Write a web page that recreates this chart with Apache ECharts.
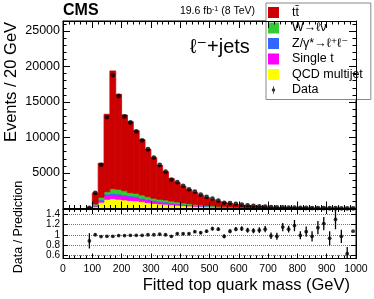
<!DOCTYPE html>
<html><head><meta charset="utf-8">
<script src="https://cdn.jsdelivr.net/npm/echarts@6/dist/echarts.min.js"></script>
<style>html,body{margin:0;padding:0;background:#fff}#c{width:374px;height:299px}</style>
</head><body><div id="c"></div>
<script>
// ---- data (20 GeV bins, lower edges) ----
const binLow = [0,20,40,60,80,100,120,140,160,180,200,220,240,260,280,300,320,340,360,380,400,420,440,460,480,500,520,540,560,580,600,620,640,660,680,700,720,740,760,780,800,820,840,860,880,900,920,940,960,980];
const binWidth = 20;
const ttbar = [0,0,0,0,50,1570,4790,10910,16580,13380,10670,10000,8820,7800,6680,5720,4790,3990,3160,2710,2340,1970,1660,1370,1100,870,695,560,465,380,320,267,223,185,150,122,103,86,71,59,48,41,34,28,23,19,17,13,11,9];
const wjets = [0,0,0,0,15,240,340,330,650,660,600,430,420,440,360,300,270,280,240,230,175,150,130,115,100,85,72,62,53,45,39,33,28,24,21,18,15,13,11,10,9,8,7,6,5,5,4,4,3,3];
const zjets = [0,0,0,0,5,40,140,140,200,140,140,140,140,120,100,90,80,70,60,52,45,40,35,30,26,22,19,16,14,12,10,9,8,7,6,5,4,4,3,3,3,2,2,2,2,1,1,1,1,1];
const singleTop = [0,0,0,0,10,100,230,600,560,610,560,560,520,380,380,350,300,260,220,190,160,140,120,100,85,72,60,50,42,36,30,25,21,18,15,13,11,9,8,7,6,5,4,4,3,3,2,2,2,2];
const qcd = [0,0,0,0,30,250,870,1290,1380,1290,1200,1100,1060,960,820,700,640,590,520,460,400,350,305,265,230,200,165,140,115,95,80,66,55,46,38,32,27,23,19,16,14,12,10,8,7,6,5,4,4,3];
const dataCounts = [0,0,0,0,97,2200,6150,12870,18790,15840,12970,12110,10850,9600,8340,7160,6140,5190,4070,3710,3180,2700,2380,1955,1650,1400,1120,805,738,633,538,436,362,305,255,186,155,155,124,112,79,72,55,55,49,32,38,23,13,19];
const ratio = [null,null,null,null,0.88,1.00,0.965,0.97,0.97,0.985,0.985,0.99,0.99,0.99,1.00,1.00,1.01,1.00,0.97,1.02,1.02,1.02,1.06,1.04,1.07,1.12,1.11,0.97,1.07,1.11,1.12,1.09,1.08,1.09,1.11,0.98,0.97,1.15,1.11,1.18,0.99,1.06,0.97,1.14,1.22,0.93,1.30,0.97,0.63,1.07];
const ratioErr = [null,null,null,null,0.15,0.02,0.01,0.01,0.01,0.01,0.01,0.01,0.01,0.01,0.01,0.01,0.015,0.015,0.02,0.02,0.02,0.02,0.025,0.025,0.03,0.035,0.035,0.04,0.04,0.04,0.045,0.05,0.05,0.055,0.06,0.065,0.07,0.08,0.065,0.11,0.08,0.10,0.10,0.13,0.13,0.14,0.19,0.13,0.13,0.0];
const ratioTicks = [0.6,0.8,1,1.2,1.4];

const FONT = '"Liberation Sans", Arial, Helvetica, "DejaVu Sans", sans-serif';
const components = [
  {name:'QCD multijet', vals:qcd, color:'#ffff00'},
  {name:'Single t', vals:singleTop, color:'#ff00ff'},
  {name:'Z/γ*→ℓ⁺ℓ⁻', vals:zjets, color:'#3366ff'},
  {name:'W→ℓν', vals:wjets, color:'#33cc33'},
  {name:'tt\u0304', vals:ttbar, color:'#cc0000'}
];

const chart = echarts.init(document.getElementById('c'), null, {renderer:'canvas'});
const series = [];
let base = binLow.map(() => 0);
components.forEach(c => {
  const d = binLow.map((lo, i) => [lo, lo + binWidth, base[i], base[i] + c.vals[i]]);
  base = base.map((b, i) => b + c.vals[i]);
  series.push({
    type:'custom', name:c.name, xAxisIndex:0, yAxisIndex:0, clip:true,
    itemStyle:{color:c.color},
    encode:{x:[0,1], y:[2,3]},
    data:d,
    renderItem:(params, api) => {
      if (api.value(3) <= api.value(2)) return null;
      const p0 = api.coord([api.value(0), api.value(3)]);
      const p1 = api.coord([api.value(1), api.value(2)]);
      return {type:'rect', shape:{x:p0[0], y:p0[1], width:p1[0]-p0[0], height:p1[1]-p0[1]},
              style:{fill:c.color, stroke:c.color, lineWidth:0.8}};
    }
  });
});
series.push({
  type:'scatter', name:'Data', xAxisIndex:0, yAxisIndex:0, z:10,
  symbol:'circle', symbolSize:4.8, itemStyle:{color:'#000'},
  data: binLow.map((lo, i) => [lo + binWidth/2, dataCounts[i]]).filter(p => p[1] > 0)
});
// ratio panel
series.push({
  type:'custom', name:'ratioErr', xAxisIndex:2, yAxisIndex:2, clip:true, z:5,
  encode:{x:0, y:1},
  data: binLow.map((lo, i) => [lo + binWidth/2, ratio[i], ratioErr[i]]).filter(p => p[1] !== null),
  renderItem:(params, api) => {
    const x = api.value(0), r = api.value(1), e = api.value(2);
    if (!e) return null;
    const a = api.coord([x, r - e]), b = api.coord([x, r + e]);
    return {type:'line', shape:{x1:a[0], y1:a[1], x2:b[0], y2:b[1]}, style:{stroke:'#000', lineWidth:1.3}};
  }
});
series.push({
  type:'scatter', name:'ratio', xAxisIndex:2, yAxisIndex:2, z:10,
  symbol:'circle', symbolSize:3.8, itemStyle:{color:'#000'},
  data: binLow.map((lo, i) => [lo + binWidth/2, ratio[i]]).filter(p => p[1] !== null),
  markLine:{silent:true, symbol:'none', label:{show:false},
    lineStyle:{type:'dotted', color:'#777', width:1},
    data: ratioTicks.map(v => ({yAxis:v}))}
});

const plain = v => String(Math.round(v * 1000) / 1000);
function xAx(grid, pos, labels){
  return {gridIndex:grid, type:'value', min:0, max:1000, interval:100, position:pos, z:10,
    axisLine:{onZero:false, lineStyle:{color:'#000', width:1}},
    axisTick:{inside:true, length: grid===0?7:5, lineStyle:{color:'#000'}},
    minorTick:{show:true, splitNumber:5, length: grid===0?3.5:3, lineStyle:{color:'#000'}},
    axisLabel:{show:labels, color:'#000', fontSize:10.5, fontFamily:FONT, margin:5, formatter:plain,
      showMinLabel:true, showMaxLabel:true, hideOverlap:false},
    splitLine:{show:false}, minorSplitLine:{show:false}};
}
const option = {
  animation:false,
  textStyle:{fontFamily:FONT},
  grid:[
    {left:63, top:21, width:293, height:187.5, show:true, borderColor:'#000', borderWidth:1, backgroundColor:'transparent'},
    {left:63, top:209, width:293, height:49.5, show:true, borderColor:'#000', borderWidth:1, backgroundColor:'transparent'}
  ],
  xAxis:[xAx(0,'bottom',false), xAx(0,'top',false), xAx(1,'bottom',true), xAx(1,'top',false)],
  yAxis:[
    {gridIndex:0, type:'value', min:0, max:26400, interval:5000, position:'left', z:10,
      axisLine:{onZero:false, lineStyle:{color:'#000'}},
      axisTick:{inside:true, length:7, lineStyle:{color:'#000'}},
      minorTick:{show:true, splitNumber:5, length:3.5, lineStyle:{color:'#000'}},
      axisLabel:{color:'#000', fontSize:12.5, margin:3, showMinLabel:false, showMaxLabel:false, fontFamily:FONT, formatter:plain},
      splitLine:{show:false}},
    {gridIndex:0, type:'value', min:0, max:26400, interval:5000, position:'right', z:10,
      axisLine:{onZero:false, lineStyle:{color:'#000'}},
      axisTick:{inside:true, length:7, lineStyle:{color:'#000'}},
      minorTick:{show:true, splitNumber:5, length:3.5, lineStyle:{color:'#000'}},
      axisLabel:{show:false}, splitLine:{show:false}},
    {gridIndex:1, type:'value', min:0.535, max:1.505, position:'left', z:10,
      axisLine:{onZero:false, lineStyle:{color:'#000'}},
      axisTick:{inside:true, length:5, customValues:ratioTicks, lineStyle:{color:'#000'}},
      axisLabel:{color:'#000', fontSize:10, margin:3, customValues:ratioTicks, fontFamily:FONT, formatter:plain,
        showMinLabel:true, showMaxLabel:true, hideOverlap:false},
      splitLine:{show:false}},
    {gridIndex:1, type:'value', min:0.535, max:1.505, position:'right', z:10,
      axisLine:{onZero:false, lineStyle:{color:'#000'}},
      axisTick:{inside:true, length:5, customValues:ratioTicks, lineStyle:{color:'#000'}},
      axisLabel:{show:false}, splitLine:{show:false}}
  ],
  legend:{
    orient:'vertical', left:266, top:3, padding:[3,8,3,2], itemGap:2.5, itemWidth:11, itemHeight:11,
    backgroundColor:'#fff', borderColor:'#888', borderWidth:1, selectedMode:false,
    textStyle:{fontSize:12.5, color:'#000', fontFamily:FONT, padding:[0,0,0,8]},
    data:[
      {name:'tt\u0304', icon:'rect'},
      {name:'W→ℓν', icon:'rect'},
      {name:'Z/γ*→ℓ⁺ℓ⁻', icon:'rect'},
      {name:'Single t', icon:'rect'},
      {name:'QCD multijet', icon:'rect'},
      {name:'Data', icon:'path://M0,0 M10,10 M4.6,1.5 L5.4,1.5 L5.4,8.5 L4.6,8.5 Z M5,3.4 A1.6,1.6 0 1,1 5,6.6 A1.6,1.6 0 1,1 5,3.4 Z'}
    ]
  },
  graphic:[
    {type:'text', x:63, y:11, style:{text:'CMS', font:'bold 16px '+FONT, fill:'#000', textAlign:'left', textVerticalAlign:'middle'}},
    {type:'text', x:255, y:11, style:{text:'{a|19.6 fb}{s|-1}{a| (8 TeV)}', fill:'#000', textAlign:'right', textVerticalAlign:'middle',
      rich:{a:{fontSize:10.5, fontFamily:FONT, fill:'#000'},
            s:{fontSize:7, verticalAlign:'top', fontFamily:FONT, fill:'#000'}}}},
    {type:'text', x:190, y:47, style:{text:'ℓ⁻+jets', font:'20px '+FONT, fill:'#000', textAlign:'left', textVerticalAlign:'middle'}},
    {type:'text', x:11, y:82, rotation:Math.PI/2, style:{text:'Events / 20 GeV', font:'16.5px '+FONT, fill:'#000', textAlign:'center', textVerticalAlign:'middle'}},
    {type:'text', x:19, y:227, rotation:Math.PI/2, style:{text:'Data / Prediction', font:'12.5px '+FONT, fill:'#000', textAlign:'center', textVerticalAlign:'middle'}},
    {type:'text', x:350, y:285, style:{text:'Fitted top quark mass (GeV)', font:'16.5px '+FONT, fill:'#000', textAlign:'right', textVerticalAlign:'middle'}}
  ],
  series:series
};
chart.setOption(option);
</script></body></html>
